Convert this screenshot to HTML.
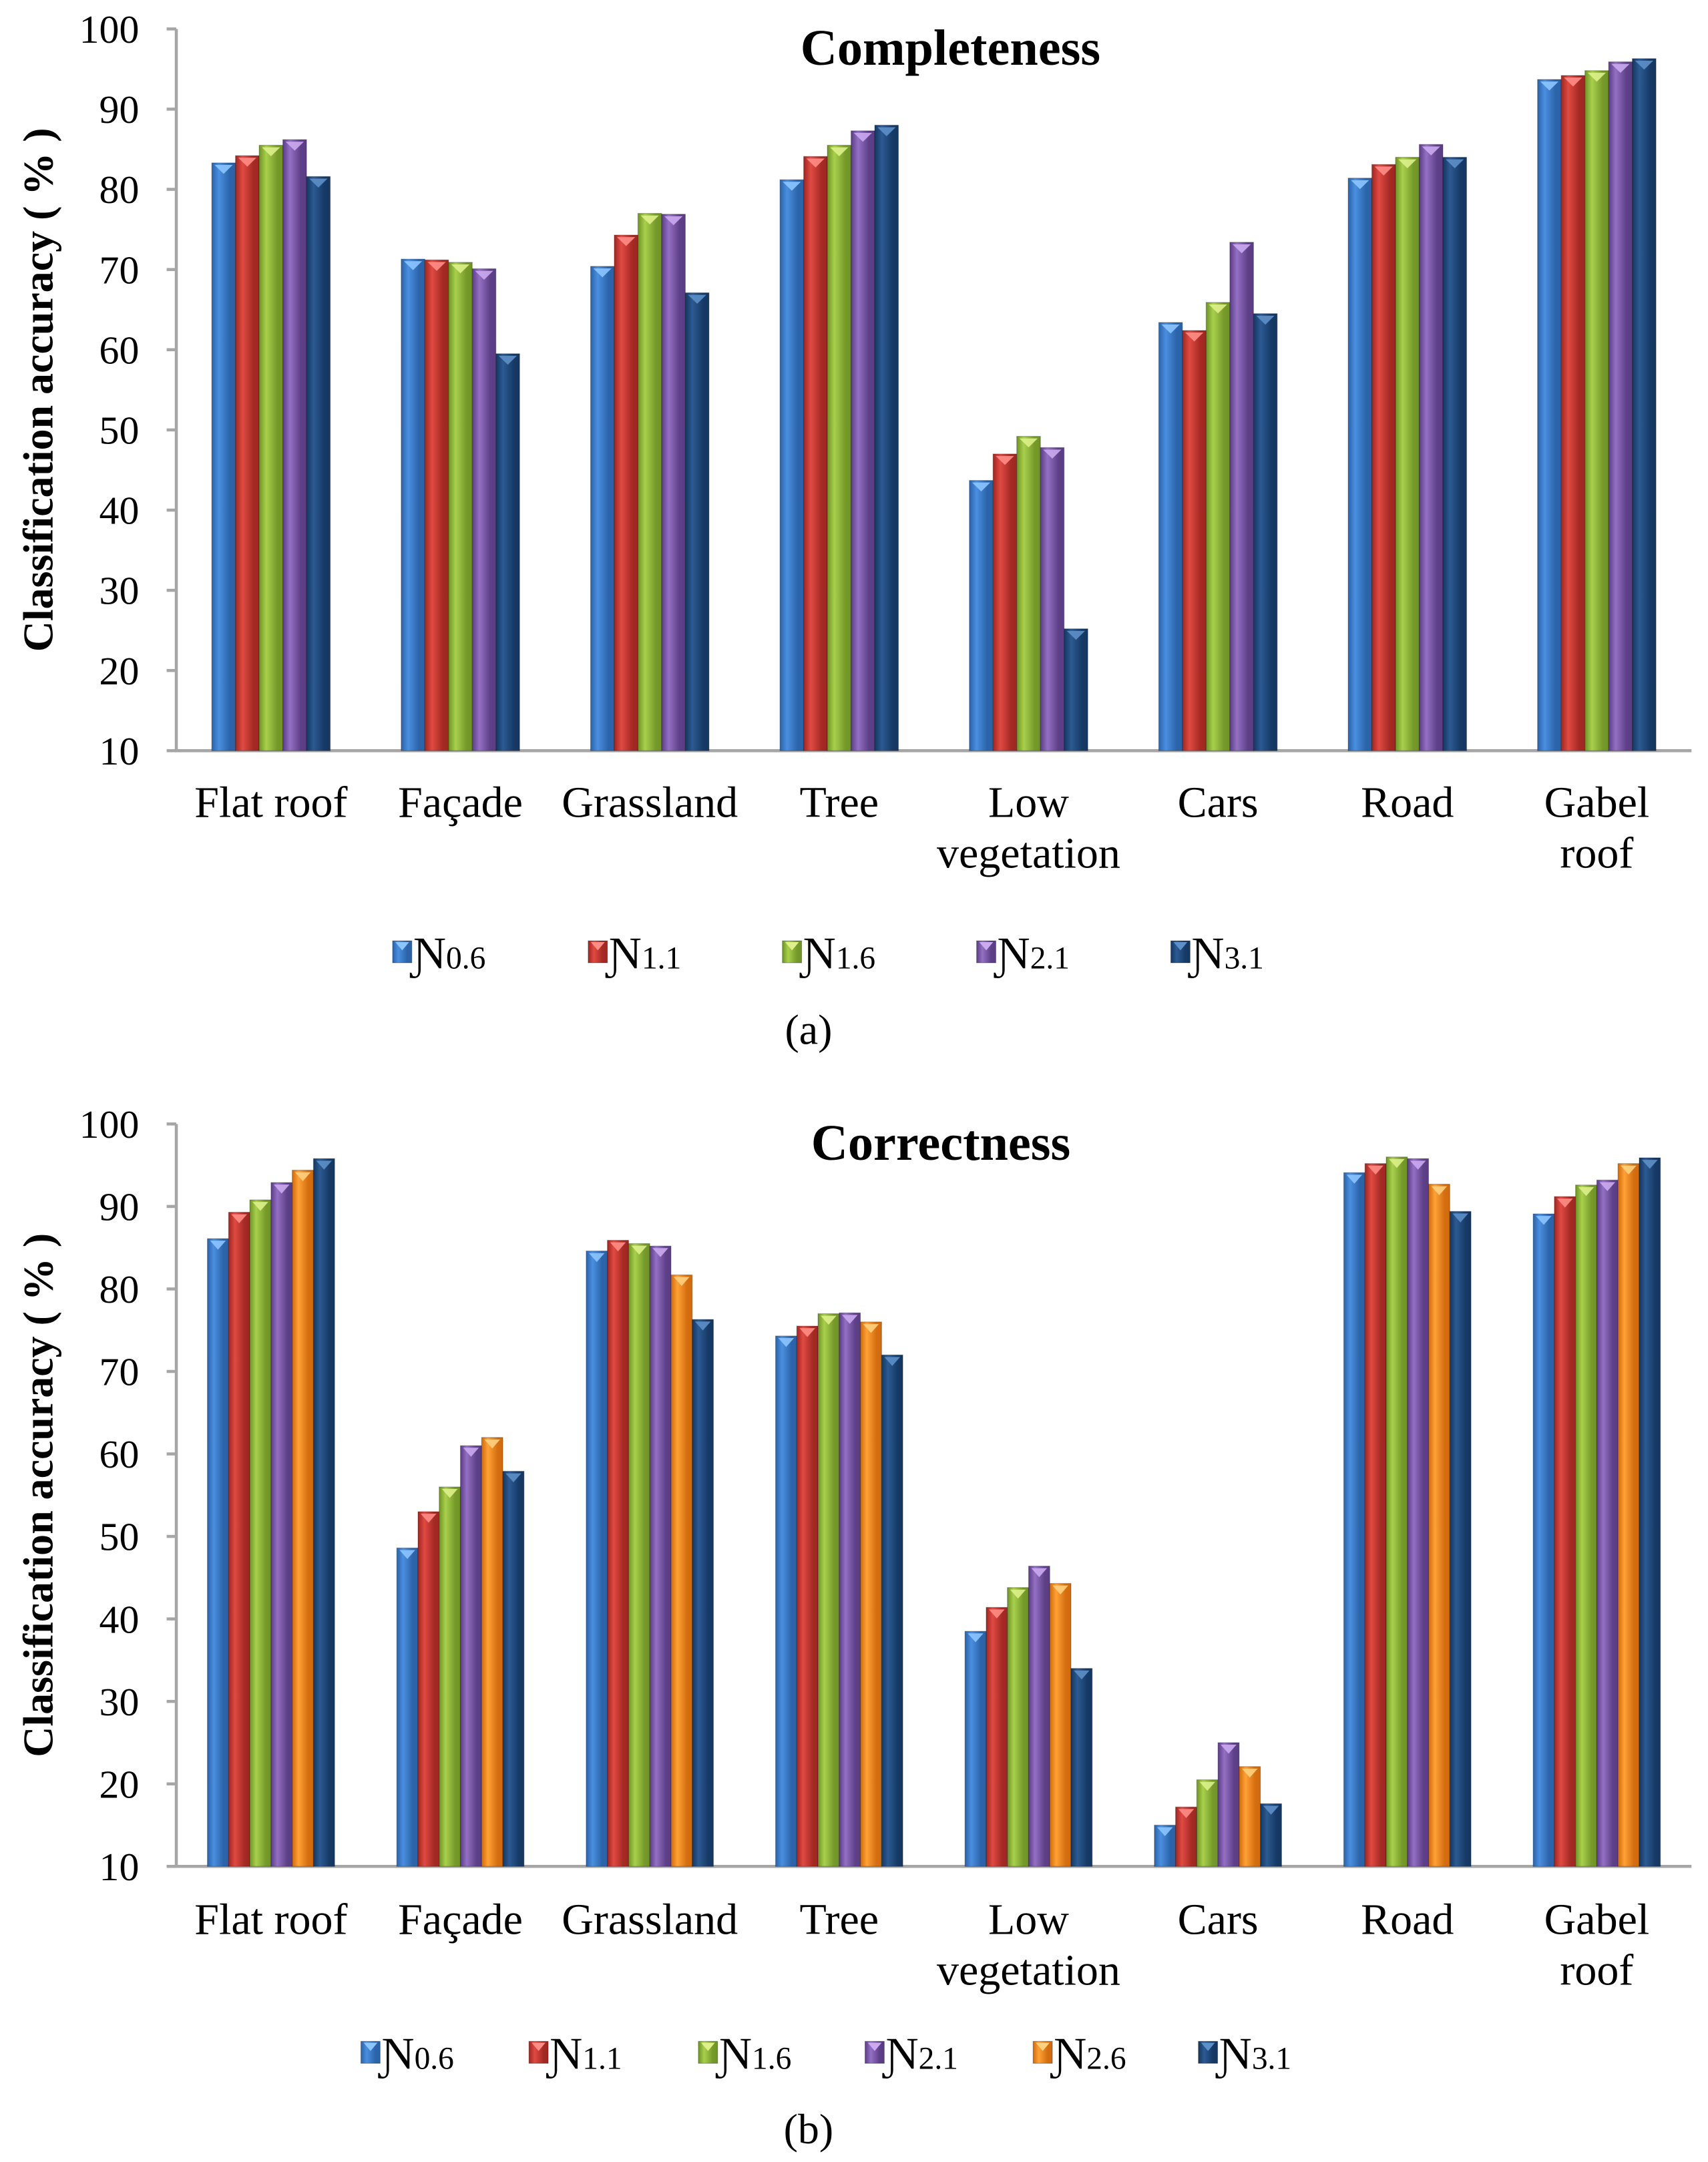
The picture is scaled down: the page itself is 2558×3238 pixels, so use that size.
<!DOCTYPE html>
<html><head><meta charset="utf-8"><style>
html,body{margin:0;padding:0;background:#fff;}
svg{display:block;}
text{font-family:"Liberation Serif","DejaVu Serif",serif;fill:#000;}
</style></head><body>
<svg id="fig" width="2558" height="3238" viewBox="0 0 1240 1569.6" xmlns="http://www.w3.org/2000/svg">
<defs id="defs"></defs>
</svg>
<script>
const categories = ["Flat roof","Façade","Grassland","Tree","Low vegetation","Cars","Road","Gabel roof"];
const catLine1 = ["Flat roof","Façade","Grassland","Tree","Low","Cars","Road","Gabel"];
const catLine2 = ["","","","","vegetation","","","roof"];
const yTicks = [10,20,30,40,50,60,70,80,90,100];
const seriesA = ["0.6","1.1","1.6","2.1","3.1"];
const seriesB = ["0.6","1.1","1.6","2.1","2.6","3.1"];
const a_N06 = [83.3,71.3,70.4,81.2,43.7,63.4,81.4,93.7];
const a_N11 = [84.2,71.2,74.3,84.1,47.0,62.4,83.1,94.2];
const a_N16 = [85.5,70.9,77.0,85.5,49.2,65.9,84.0,94.8];
const a_N21 = [86.2,70.1,76.9,87.3,47.8,73.4,85.6,95.9];
const a_N31 = [81.6,59.5,67.1,88.0,25.2,64.5,84.0,96.3];
const b_N06 = [86.1,48.6,84.6,74.3,38.5,15.0,94.1,89.1];
const b_N11 = [89.3,53.0,85.9,75.5,41.4,17.2,95.2,91.2];
const b_N16 = [90.8,56.0,85.5,77.0,43.8,20.5,96.0,92.6];
const b_N21 = [92.9,61.0,85.2,77.1,46.4,25.0,95.8,93.2];
const b_N26 = [94.4,62.0,81.7,76.0,44.3,22.1,92.7,95.2];
const b_N31 = [95.8,57.9,76.3,72.0,34.0,17.6,89.4,95.9];

const NS="http://www.w3.org/2000/svg";
const svg=document.getElementById('fig');
const defs=document.getElementById('defs');
function mk(tag,attrs,parent){const e=document.createElementNS(NS,tag);for(const k in attrs)e.setAttribute(k,attrs[k]);(parent||svg).appendChild(e);return e;}
const colors={"0.6":["#2b62a8","#4a8fe0","#2c64aa"],"1.1":["#9e2622","#e04a42","#a52a25"],"1.6":["#6f9326","#a8d04c","#769a2a"],"2.1":["#5a3d85","#9470c4","#5e4088"],"2.6":["#d06a0c","#ffa236","#d46e10"],"3.1":["#143760","#2c5a92","#163a66"]};
const tri={"0.6":"#8cc4ff","1.1":"#ff8d86","1.6":"#ddf08a","2.1":"#cbaaf0","2.6":"#ffd080","3.1":"#5d8fc8"};
for(const k in colors){
  const g=mk('linearGradient',{id:'g'+k.replace('.','_'),x1:0,x2:1,y1:0,y2:0},defs);
  mk('stop',{offset:'0',"stop-color":colors[k][0]},g);
  mk('stop',{offset:'0.3',"stop-color":colors[k][1]},g);
  mk('stop',{offset:'0.75',"stop-color":colors[k][2]},g);
  mk('stop',{offset:'1',"stop-color":colors[k][0]},g);
}

function chart(cfg){
  const {x0,x1,yTop,yBot,title,titleX,titleY,series,data,barW,catY,legY,legX,legText,legTextY,id}=cfg;
  const g=mk('g',{});
  
  
  const yScale=v=>yBot-(v-10)/90*(yBot-yTop);
  const bandW=(x1-x0)/categories.length;
  const xCenter=i=>x0+bandW*(i+0.5);
  const ax=mk('path',{d:`M${x0} ${yTop} V${yBot} H${x1}`,stroke:'#a6a6a6','stroke-width':2.2,fill:'none'},g);
  
  
  yTicks.forEach(t=>{
    const y=yScale(t);
    mk('line',{x1:x0-7,x2:x0,y1:y,y2:y,stroke:'#a6a6a6','stroke-width':2.2},g);
    const tx=mk('text',{x:x0-27,y:y+10,'text-anchor':'end','font-size':29},g);
    tx.textContent=t;
    
    
  });
  const yt=mk('text',{x:0,y:0,'text-anchor':'middle','font-size':31,'font-weight':'bold',transform:`translate(38 ${(yTop+yBot)/2}) rotate(-90)`},g);
  yt.textContent='Classification accuracy ( % )';
  
  
  const tt=mk('text',{x:titleX,y:titleY,'text-anchor':'middle','font-size':37,'font-weight':'bold'},g);
  tt.textContent=title;
  
  
  const n=series.length;
  categories.forEach((c,i)=>{
    const start=xCenter(i)-n*barW/2;
    series.forEach((s,j)=>{
      const v=data[j][i];
      const x=start+j*barW, y=yScale(v), h=yBot-y;
      const r=mk('rect',{x:x,y:y,width:barW,height:h,fill:'url(#g'+s.replace('.','_')+')',stroke:'rgba(0,0,0,0.25)','stroke-width':0.6},g);
      
      
      const tp=mk('path',{d:`M${x+2} ${y+1.5} H${x+barW-2} L${x+barW/2} ${y+8} Z`,fill:tri[s],opacity:0.9},g);
      
      
    });
    const l1=mk('text',{x:xCenter(i),y:catY,'text-anchor':'middle','font-size':32},g);
    l1.textContent=catLine1[i];
    
    
    if(catLine2[i]){
      const l2=mk('text',{x:xCenter(i),y:catY+37,'text-anchor':'middle','font-size':32},g);
      l2.textContent=catLine2[i];
      
      
    }
  });
  series.forEach((s,j)=>{
    const lx=legX[j];
    const lg=mk('g',{},g);
    
    
    mk('rect',{x:lx,y:legY-10,width:14,height:16,fill:'url(#g'+s.replace('.','_')+')',stroke:'rgba(0,0,0,0.3)','stroke-width':0.5},lg);
    mk('path',{d:`M${lx+2} ${legY-9} H${lx+12} L${lx+7} ${legY-3} Z`,fill:tri[s]},lg);
    const t=mk('text',{x:lx+15,y:legY+10,'font-size':33},lg);
    const a=document.createElementNS(NS,'tspan');a.textContent='Ɲ';t.appendChild(a);
    const b=document.createElementNS(NS,'tspan');b.setAttribute('font-size','23');b.textContent=s;t.appendChild(b);
  });
  const lt=mk('text',{x:587,y:legTextY,'text-anchor':'middle','font-size':31},g);
  lt.textContent=legText;
  
  
}

chart({id:'completeness',x0:128,x1:1228,yTop:21,yBot:545,title:'Completeness',titleX:690,titleY:47,series:seriesA,
  data:[a_N06,a_N11,a_N16,a_N21,a_N31],barW:17.2,catY:593,legY:693,legX:[285,427,568,709,850],legText:'(a)',legTextY:758});
chart({id:'correctness',x0:128,x1:1228,yTop:816,yBot:1355,title:'Correctness',titleX:683,titleY:842,series:seriesB,
  data:[b_N06,b_N11,b_N16,b_N21,b_N26,b_N31],barW:15.4,catY:1404,legY:1492,legX:[262,384,507,628,750,870],legText:'(b)',legTextY:1556});
</script>
</body></html>
